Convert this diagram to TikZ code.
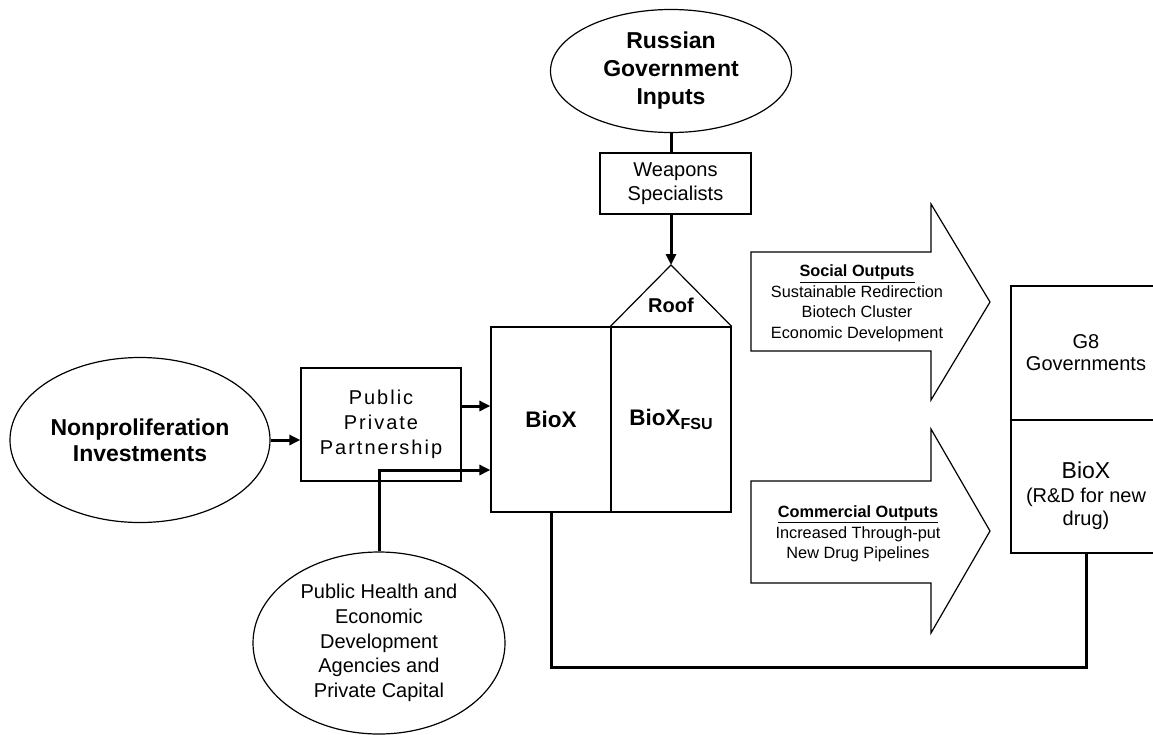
\documentclass[tikz,border=0pt]{standalone}
\usepackage{fontspec}
\setmainfont{Liberation Sans}
\newfontfamily\spacedfont[LetterSpace=10]{Liberation Sans}
\usetikzlibrary{shapes.geometric,arrows.meta,calc}

\newcommand{\fsz}[2]{\fontsize{#1}{#2}\selectfont}

\begin{document}
\begin{tikzpicture}[x=1pt,y=-1pt,
  outline/.style={draw,line width=1.2pt},
  boxnode/.style={outline,rectangle,inner sep=0pt,align=center},
  oval/.style={outline,ellipse,inner sep=0pt,align=center},
  conn/.style={line width=3pt},
  arr/.style={conn,-{Triangle[length=11pt,width=10pt]}},
  bigarrow/.style={outline,line join=miter},
  outtext/.style={align=center,font=\fsz{16.3}{20.5}}
]
\useasboundingbox (0,0) rectangle (1153,734);

% top input
\node[oval,minimum width=241pt,minimum height=123pt,font=\fsz{23}{28}\bfseries]
  (rus) at (671,71) {Russian\\Government\\Inputs};
\node[boxnode,minimum width=151pt,minimum height=61pt,font=\fsz{20}{24}]
  (weap) at (675.5,183.5) {Weapons\\Specialists};

% BioX house
\node[boxnode,minimum width=120pt,minimum height=185pt,font=\fsz{22.5}{26}\bfseries]
  (biox) at (551,419.5) {BioX};
\node[boxnode,minimum width=120pt,minimum height=185pt,font=\fsz{22.5}{26}\bfseries]
  (fsu) at (671,419.5) {BioX\raisebox{-0.35ex}{\fsz{16}{16}FSU}};
\coordinate (apex) at (671,265);
\draw[outline,line join=miter] (fsu.north west) -- (apex) -- (fsu.north east);
\node[font=\fsz{20}{24}\bfseries] (roof) at (671,305) {Roof};

% left inputs
\node[oval,minimum width=260pt,minimum height=165pt,font=\fsz{23}{26}\bfseries]
  (nonp) at (140,440) {Nonproliferation\\Investments};
\node[boxnode,minimum width=160pt,minimum height=113pt,font=\fsz{20}{25}\spacedfont]
  (ppp) at (381,424.5) {Public\\Private\\Partnership};
\node[oval,minimum width=252pt,minimum height=182pt,font=\fsz{20}{24.8}]
  (ph) at (379,643) {Public Health and\\Economic\\Development\\Agencies and\\Private Capital};

% outputs
\draw[bigarrow] (751,252) -- (931,252) -- (931,204) -- (990,302) -- (931,400)
  -- (931,351) -- (751,351) -- cycle;
\node[outtext] (social) at (857,303.5)
  {\underline{\textbf{Social Outputs}}\\Sustainable Redirection\\Biotech Cluster\\Economic Development};
\draw[bigarrow] (751,481) -- (931,481) -- (931,429) -- (990,531) -- (931,633)
  -- (931,583) -- (751,583) -- cycle;
\node[outtext] (comm) at (858,534)
  {\underline{\textbf{Commercial Outputs}}\\Increased Through-put\\New Drug Pipelines};

% beneficiaries
\node[boxnode,minimum width=150pt,minimum height=134pt,font=\fsz{20}{22}]
  (g8) at (1086,353) {G8\\Governments};
\node[boxnode,minimum width=150pt,minimum height=133pt]
  (bioxrd) at (1086,486.5) {};
\node[align=center,font=\fsz{20}{23.5}]
  (bioxrdtext) at (1086,496) {{\fsz{23}{23.5}BioX}\\(R\&D for new\\drug)};

% connectors
\draw[conn] (rus.south) -- (rus.south |- weap.north);
\draw[arr] (rus.south |- weap.south) -- (apex);
\draw[arr] (nonp.east) -- (nonp.east -| ppp.west);
\draw[arr] ([yshift=18.5pt]ppp.east) -- ([yshift=18.5pt]ppp.east -| biox.west);
\draw[arr] (ph.north) |- ($(biox.west)+(0,50.5)$);
\draw[conn] (biox.south) -- ++(0,155) -| (bioxrd.south);
\end{tikzpicture}
\end{document}
